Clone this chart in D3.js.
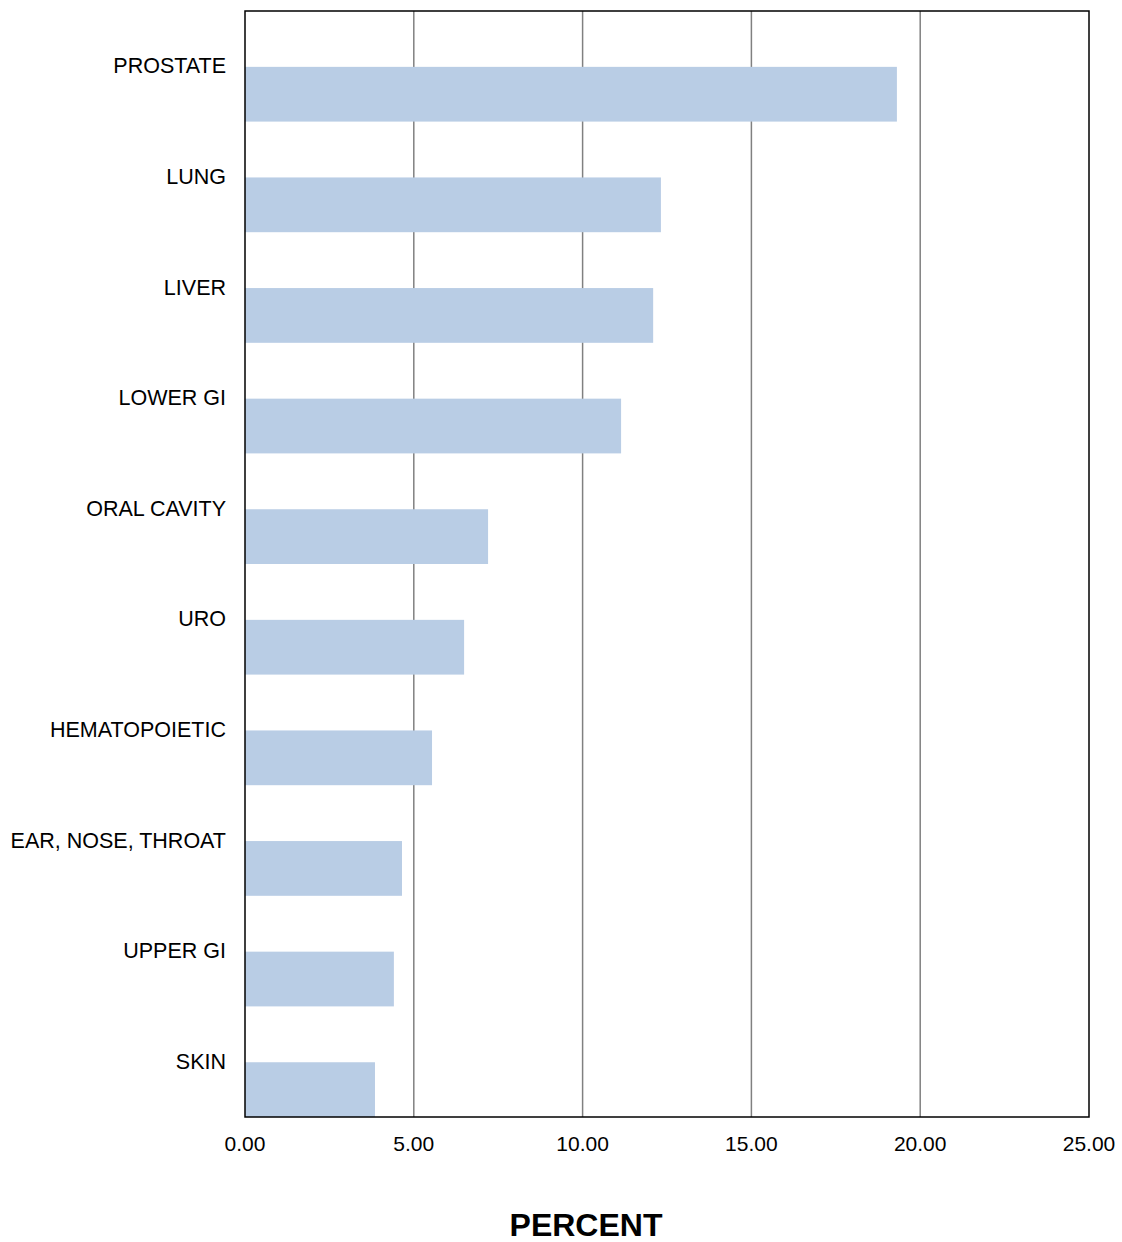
<!DOCTYPE html>
<html>
<head>
<meta charset="utf-8">
<script src="https://cdn.jsdelivr.net/npm/d3@7"></script>
<style>
  body { margin: 0; background: #fff; }
  text { font-family: "Liberation Sans", Arial, sans-serif; }
</style>
</head>
<body>
<svg id="chart" width="1122" height="1242"></svg>
<script>
// data
const categories = ["PROSTATE", "LUNG", "LIVER", "LOWER GI", "ORAL CAVITY", "URO",
  "HEMATOPOIETIC", "EAR, NOSE, THROAT", "UPPER GI", "SKIN"];
const percent = [19.31, 12.32, 12.09, 11.14, 7.20, 6.49, 5.54, 4.65, 4.41, 3.85];
const xTicks = [0, 5, 10, 15, 20, 25];

const svg = d3.select("#chart");
const mLeft = 245, mRight = 1089, mTop = 11, mBottom = 1117;

const x = d3.scaleLinear().domain([0, 25]).range([mLeft, mRight]);
const y = d3.scaleBand().domain(categories).range([mTop, mBottom]);

// grid lines
svg.selectAll(".grid").data(xTicks.slice(1, -1)).enter().append("line")
  .attr("x1", d => x(d)).attr("x2", d => x(d))
  .attr("y1", mTop).attr("y2", mBottom)
  .attr("stroke", "#808080").attr("stroke-width", 1.5);

// bars occupy lower half of each band
svg.selectAll(".bar").data(categories).enter().append("rect")
  .attr("x", x(0))
  .attr("y", d => y(d) + y.bandwidth() * 0.505)
  .attr("width", (d, i) => x(percent[i]) - x(0))
  .attr("height", y.bandwidth() * 0.495)
  .attr("fill", "#b9cde5");

// frame
svg.append("rect").attr("x", mLeft).attr("y", mTop)
  .attr("width", mRight - mLeft).attr("height", mBottom - mTop)
  .attr("fill", "none").attr("stroke", "#000").attr("stroke-width", 1.5);

// category labels
svg.selectAll(".lab").data(categories).enter().append("text")
  .attr("x", 226)
  .attr("y", d => y(d) + y.bandwidth() * 0.5 + 7)
  .attr("text-anchor", "end")
  .attr("font-size", 21.5)
  .text(d => d);

// x tick labels
svg.selectAll(".tick").data(xTicks).enter().append("text")
  .attr("x", d => x(d)).attr("y", 1151)
  .attr("text-anchor", "middle").attr("font-size", 21)
  .text(d => d3.format(".2f")(d));

svg.append("text").attr("x", 586).attr("y", 1236)
  .attr("text-anchor", "middle").attr("font-size", 32).attr("font-weight", "bold")
  .text("PERCENT");
</script>
</body>
</html>
